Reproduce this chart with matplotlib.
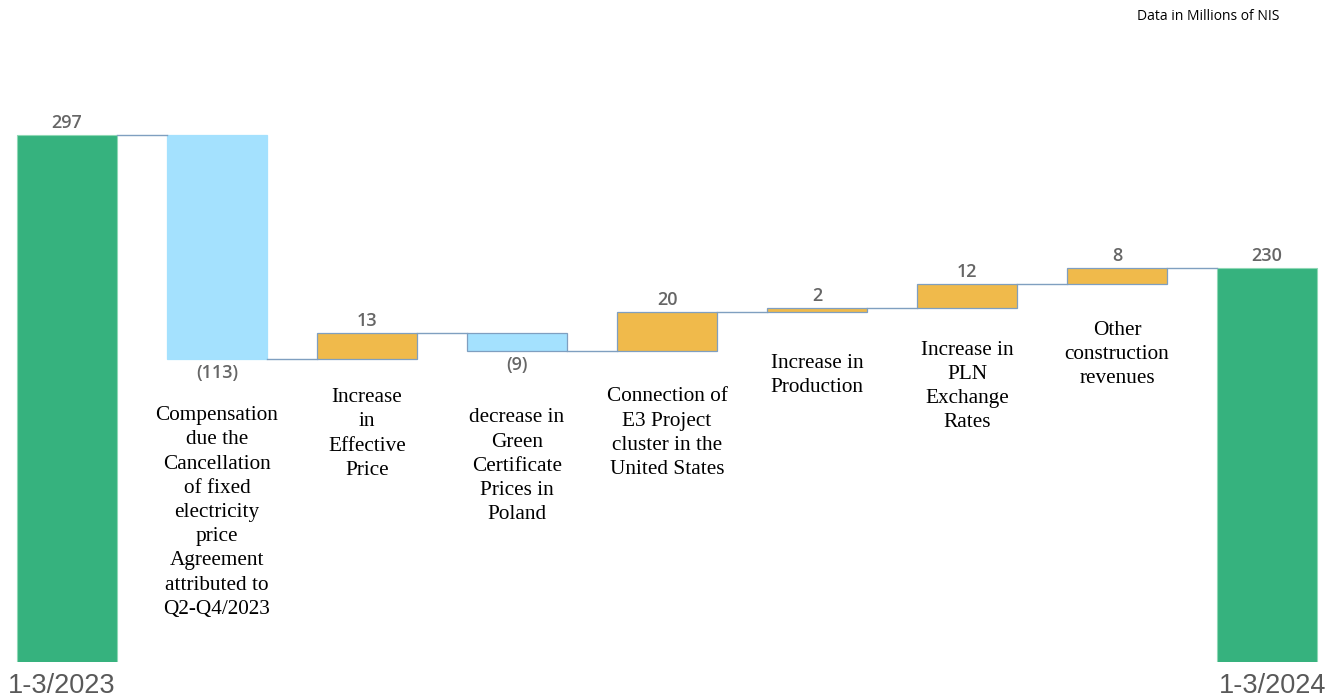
import matplotlib.pyplot as plt

# values (millions of NIS)
start_label = '1-3/2023'
end_label = '1-3/2024'
start_value = 297
end_value = 230
changes = [-113, 13, -9, 20, 2, 12, 8]
change_labels = ['(113)', '13', '(9)', '20', '2', '12', '8']
descriptions = [
    'Compensation\ndue the\nCancellation\nof fixed\nelectricity\nprice\nAgreement\nattributed to\nQ2-Q4/2023',
    'Increase\nin\nEffective\nPrice',
    'decrease in\nGreen\nCertificate\nPrices in\nPoland',
    'Connection of\nE3 Project\ncluster in the\nUnited States',
    'Increase in\nProduction',
    'Increase in\nPLN\nExchange\nRates',
    'Other\nconstruction\nrevenues',
]
# gap (px) between bar bottom and top of the description text
desc_gap = [47, 29, 57, 36, 42, 33, 37]

GREEN = '#36b27e'
BLUE = '#a4e1fe'
ORANGE = '#f0ba4b'
EDGE = '#7f9fc0'
VALUE_GRAY = '#666666'

fig = plt.figure(figsize=(13.38, 7), dpi=100)
W, H = 1338, 700
ax = fig.add_axes([0, (H - 662) / H, 1, 662 / H])
ax.set_xlim(-67 / 150, (W - 67) / 150)
ax.set_ylim(31.5, 365)
ax.axis('off')

width = 100 / 150
n = len(changes)
val_kw = dict(ha='center', va='center', fontsize=13, color=VALUE_GRAY,
              family='Open Sans', fontweight='semibold')

# totals
ax.bar(0, start_value, width, color=GREEN, edgecolor='#8fd8b5', linewidth=0.8)
ax.bar(n + 1, end_value, width, color=GREEN, edgecolor='#8fd8b5', linewidth=0.8)
ax.annotate(str(start_value), (0, start_value), xytext=(0, 12), textcoords='offset pixels', **val_kw)
ax.annotate(str(end_value), (n + 1, end_value), xytext=(0, 12), textcoords='offset pixels', **val_kw)

running = start_value
tops = [start_value]
for i, (ch, lab, desc, gap) in enumerate(zip(changes, change_labels, descriptions, desc_gap)):
    x = i + 1
    new = running + ch
    lo, hi = min(running, new), max(running, new)
    col = ORANGE if ch > 0 else BLUE
    ec = EDGE if i > 0 else BLUE
    ax.bar(x, hi - lo, width, bottom=lo, color=col, edgecolor=ec, linewidth=0.9)
    if ch > 0:
        ax.annotate(lab, (x, hi), xytext=(0, 12), textcoords='offset pixels', **val_kw)
    else:
        ax.annotate(lab, (x, lo), xytext=(0, -14), textcoords='offset pixels', **val_kw)
    ax.annotate(desc, (x, lo), xytext=(0, -gap), textcoords='offset pixels',
                ha='center', va='top', fontsize=15.3, family='Liberation Serif',
                linespacing=1.37, color='black')
    running = new
    tops.append(new)

# connectors
for i in range(len(tops)):
    ax.plot([i + width / 2, i + 1 - width / 2], [tops[i], tops[i]], color=EDGE, lw=1)

fig.text(8 / W, 1 - 686 / H, start_label, ha='left', va='center', fontsize=19.5,
         family='Liberation Sans', color='#595959')
fig.text(1326 / W, 1 - 686 / H, end_label, ha='right', va='center', fontsize=19.5,
         family='Liberation Sans', color='#595959')
fig.text(1279 / W, 1 - 17 / H, 'Data in Millions of NIS', ha='right', va='center',
         fontsize=10, family='Open Sans', color='black')

fig.savefig('out.png', dpi=100)
